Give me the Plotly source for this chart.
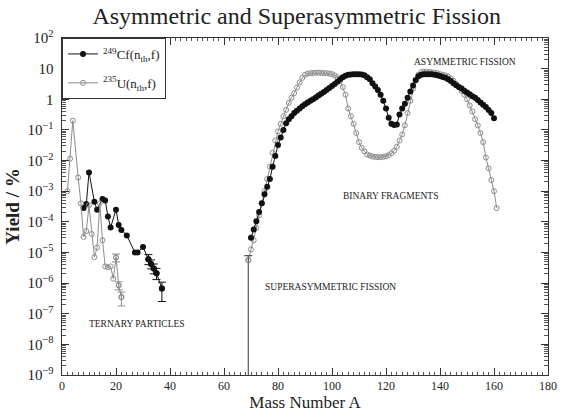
import plotly.graph_objects as go

# ---------------- data (yield in %) ----------------
# 249Cf(n_th,f) ternary particles
cf_tern_A = [8, 9, 10, 12, 13, 15, 16, 17, 18, 20, 21, 22, 24, 27, 28, 30, 32, 33, 34, 35, 37]
cf_tern_Y = [2.8e-4, 3.8e-4, 4.1e-3, 4.5e-4, 2.5e-4, 5.6e-4, 5.0e-4, 1.5e-4, 6.5e-5, 2.5e-4,
             7.9e-5, 5.4e-5, 3.6e-5, 1.0e-5, 1.0e-5, 1.5e-5, 6.0e-6, 4.2e-6, 3.0e-6, 2.1e-6, 6.6e-7]
cf_err_A = [32, 33, 34, 35, 37]
cf_err_Y = [6.0e-6, 4.2e-6, 3.0e-6, 2.1e-6, 6.6e-7]
cf_err_plus = [2.5e-6, 1.5e-6, 1.2e-6, 0.9e-6, 4.1e-7]
cf_err_minus = [2.0e-6, 1.3e-6, 1.0e-6, 0.8e-6, 4.1e-7]

# 235U(n_th,f) ternary particles
u_tern_A = [2, 3, 4, 6, 7, 8, 9, 10, 11, 12, 13, 14, 15, 16, 17, 18, 19, 20, 21, 22]
u_tern_Y = [1.0e-3, 1.15e-2, 0.20, 2.8e-3, 4.0e-4, 3.2e-5, 5.0e-5, 3.5e-4, 4.0e-5, 7.0e-6,
            1.45e-5, 4.0e-4, 2.5e-5, 3.5e-6, 3.3e-6, 3.5e-6, 1.4e-6, 6.9e-6, 8.5e-7, 3.5e-7]
u_err_A = [20, 21, 22]
u_err_Y = [6.9e-6, 8.5e-7, 3.5e-7]
u_err_plus = [2.0e-6, 2.5e-7, 1.6e-7]
u_err_minus = [2.0e-6, 2.5e-7, 1.7e-7]

# binary fragments 249Cf(n_th,f)
cf_bin_A = list(range(70, 161))
cf_bin_Y = [3.0e-5, 5.6e-5, 1.05e-4, 2.1e-4, 4.0e-4, 7.9e-4, 1.4e-3, 2.5e-3, 6.3e-3, 1.4e-2,
            3.2e-2, 5.6e-2, 0.10, 0.166, 0.224, 0.28, 0.355, 0.42, 0.50, 0.59,
            0.69, 0.79, 0.89, 1.0, 1.15, 1.32, 1.51, 1.74, 2.0, 2.34,
            2.69, 3.16, 3.72, 4.47, 5.25, 5.89, 6.31, 6.46, 6.6, 6.6,
            6.6, 6.46, 6.03, 5.25, 4.47, 3.31, 2.63, 2.0, 1.41, 0.89,
            0.50, 0.25, 0.158, 0.145, 0.151, 0.316, 0.50, 0.71, 1.12, 1.78,
            2.82, 4.17, 5.62, 6.31, 6.6, 6.6, 6.6, 6.6, 6.31, 6.03,
            5.75, 5.37, 5.01, 4.47, 3.98, 3.31, 2.88, 2.51, 2.24, 1.91,
            1.66, 1.45, 1.26, 1.12, 0.955, 0.79, 0.66, 0.56, 0.45, 0.355,
            0.24]

# binary fragments 235U(n_th,f)
u_bin_A = list(range(69, 162))
u_bin_Y = [5.6e-6, 1.26e-5, 2.5e-5, 6.3e-5, 1.6e-4, 4.0e-4, 1.0e-3, 2.5e-3, 6.3e-3, 1.8e-2,
           4.5e-2, 8.9e-2, 0.158, 0.28, 0.45, 0.76, 1.12, 1.58, 2.4, 3.55,
           5.0, 6.3, 6.9, 7.1, 7.2, 7.4, 7.4, 7.2, 7.2, 7.1,
           6.9, 6.6, 6.0, 5.25, 4.0, 2.5, 1.41, 0.50, 0.28, 0.158,
           0.079, 0.040, 0.026, 0.020, 0.0158, 0.0145, 0.0135, 0.0132, 0.0129, 0.0129,
           0.0132, 0.0138, 0.0151, 0.0174, 0.0209, 0.0282, 0.0447, 0.0708, 0.141, 0.355,
           0.89, 2.24, 4.47, 6.3, 7.6, 7.9, 7.9, 7.8, 7.6, 7.4,
           7.1, 6.6, 6.3, 6.0, 5.5, 4.8, 4.0, 3.16, 2.5, 1.9,
           1.41, 1.0, 0.63, 0.40, 0.224, 0.141, 0.079, 0.040, 0.0126, 0.0056,
           0.0023, 1.0e-3, 2.8e-4]
# superasymmetric point whose error bar reaches below the axis
u_sup_A = [69]
u_sup_Y = [5.6e-6]
u_sup_plus = [2.3e-6]
u_sup_minus = [5.59999e-6]

# region labels: (text, mass number, log10 of yield)
region_labels = ["ASYMMETRIC FISSION", "BINARY FRAGMENTS", "SUPERASYMMETRIC FISSION", "TERNARY PARTICLES"]
region_A = [149.4, 121.5, 99.3, 27.6]
region_logY = [1.23, -3.16, -6.13, -7.35]

cf_name = "<sup>249</sup>Cf(n<sub>th</sub>,f)"
u_name = "<sup>235</sup>U(n<sub>th</sub>,f)"

BLACK = "#111111"
GRAY = "#8c8c8c"
TXT = "#222222"
FONT = "Liberation Serif"

fig = go.Figure()

cf_marker = dict(symbol="circle", size=6, color=BLACK)
u_marker = dict(symbol="circle-open", size=5, color=GRAY, line=dict(width=1, color=GRAY))

fig.add_trace(go.Scatter(x=cf_tern_A, y=cf_tern_Y, mode="lines+markers", name=cf_name,
                         line=dict(color=BLACK, width=1), marker=cf_marker, legendgroup="cf"))
fig.add_trace(go.Scatter(x=u_tern_A, y=u_tern_Y, mode="lines+markers", name=u_name,
                         line=dict(color=GRAY, width=1), marker=u_marker, legendgroup="u"))
fig.add_trace(go.Scatter(x=u_bin_A, y=u_bin_Y, mode="lines+markers", showlegend=False,
                         line=dict(color=GRAY, width=1), marker=u_marker, legendgroup="u"))
fig.add_trace(go.Scatter(x=cf_bin_A, y=cf_bin_Y, mode="lines+markers", showlegend=False,
                         line=dict(color=BLACK, width=1), marker=cf_marker, legendgroup="cf"))
fig.add_trace(go.Scatter(x=cf_err_A, y=cf_err_Y, mode="markers", showlegend=False,
                         marker=cf_marker,
                         error_y=dict(type="data", array=cf_err_plus, arrayminus=cf_err_minus,
                                      color=BLACK, thickness=1, width=4)))
fig.add_trace(go.Scatter(x=u_err_A, y=u_err_Y, mode="markers", showlegend=False,
                         marker=u_marker,
                         error_y=dict(type="data", array=u_err_plus, arrayminus=u_err_minus,
                                      color=GRAY, thickness=1, width=4)))
fig.add_trace(go.Scatter(x=u_sup_A, y=u_sup_Y, mode="markers", showlegend=False,
                         marker=u_marker,
                         error_y=dict(type="data", array=u_sup_plus, arrayminus=u_sup_minus,
                                      color="#555555", thickness=1.2, width=4)))

for txt, xa, ya in zip(region_labels, region_A, region_logY):
    fig.add_annotation(x=xa, y=ya, text=txt, showarrow=False,
                       font=dict(family=FONT, size=9.5, color=TXT))

fig.update_layout(
    width=569, height=419,
    margin=dict(l=60, r=20, t=38, b=40),
    paper_bgcolor="white", plot_bgcolor="white",
    font=dict(family=FONT, color=TXT),
    title=dict(text="Asymmetric and Superasymmetric Fission", x=0.483, xref="paper",
               y=1 - 16 / 419, yref="container", xanchor="center", yanchor="middle",
               font=dict(family=FONT, size=24, color=TXT)),
    showlegend=True,
    hovermode=False,
    legend=dict(x=0, y=1, xanchor="left", yanchor="top", bgcolor="white",
                bordercolor="#333333", borderwidth=1,
                font=dict(family=FONT, size=13, color=TXT),
                itemwidth=30, tracegroupgap=9),
)
fig.update_xaxes(range=[0, 180], tick0=0, dtick=20, ticks="inside", ticklen=7,
                 tickcolor="#333333", showline=True, linecolor="#333333", linewidth=1,
                 mirror="ticks", showgrid=False, zeroline=False,
                 tickfont=dict(family=FONT, size=12, color=TXT),
                 minor=dict(dtick=2, ticks="inside", ticklen=3, tickcolor="#555555", showgrid=False),
                 title=dict(text="Mass Number A", font=dict(family=FONT, size=17, color=TXT),
                            standoff=2))
fig.update_yaxes(type="log", range=[-9, 2], tick0=0, dtick=1, exponentformat="power",
                 ticks="inside", ticklen=7, tickcolor="#333333",
                 showline=True, linecolor="#333333", linewidth=1, mirror="ticks",
                 showgrid=False, zeroline=False, ticklabelstandoff=5,
                 tickfont=dict(family=FONT, size=12, color=TXT),
                 minor=dict(dtick="D1", ticks="inside", ticklen=4, tickcolor="#555555", showgrid=False),
                 title=dict(text="<b>Yield / %</b>", font=dict(family=FONT, size=19, color=TXT),
                            standoff=2))

# remove the default page margin so the figure sits at the window's top-left corner
fig.write_html("out.html",
               config={"displayModeBar": False, "staticPlot": True},
               post_script="document.body.style.margin='0';"
                           "document.documentElement.style.overflow='hidden';")
